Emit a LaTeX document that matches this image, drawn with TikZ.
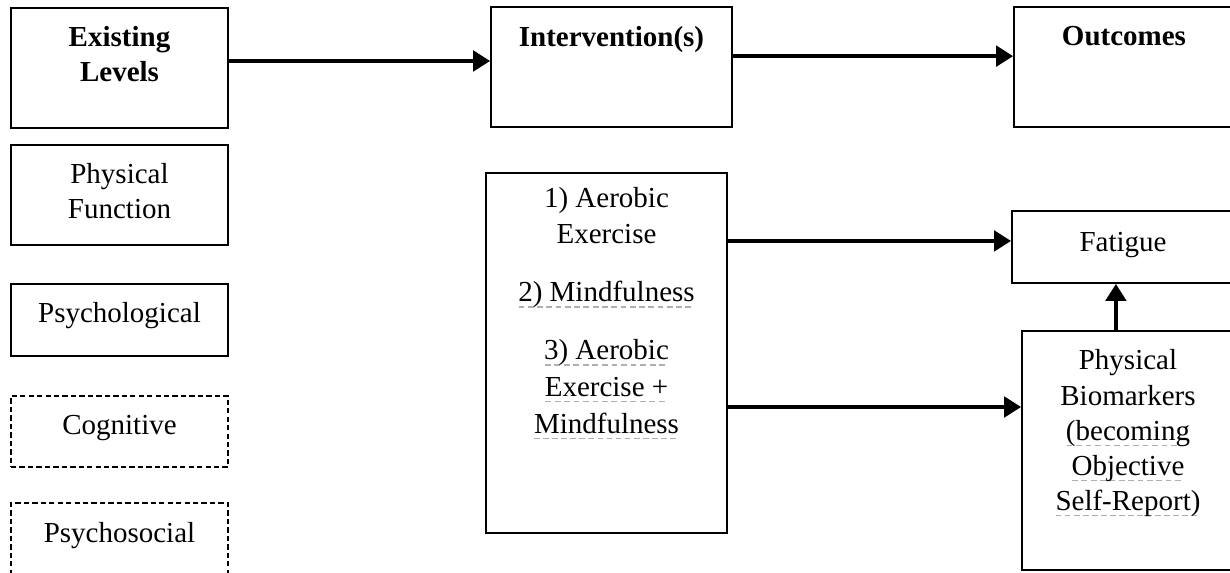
\documentclass[tikz,border=0pt]{standalone}
\usepackage{fontspec}
\setmainfont{Liberation Serif}
\usetikzlibrary{arrows.meta,positioning}

\definecolor{spellgray}{RGB}{175,175,175}
% grey dashed spell-check underline
\newsavebox{\spellbox}
\newcommand{\spell}[1]{\sbox{\spellbox}{#1}\leavevmode
  \rlap{\raisebox{-2.4pt}[0pt][0pt]{\hbox to\wd\spellbox{\color{spellgray}\xleaders\hbox{\rule{2.4pt}{0.5pt}\kern1.3pt}\hfill}}}\usebox{\spellbox}}

\begin{document}
\begin{tikzpicture}
    [x=0.4138pt,y=-0.4138pt,
    font=\fontsize{12}{14.5}\selectfont,
    levelbox/.style={draw,line width=0.8pt,minimum width=89.8pt},
    dashbox/.style={levelbox,dash pattern=on 2.2pt off 1.3pt},
    stagebox/.style={draw,line width=0.8pt},
    txt/.style={inner sep=0pt,align=center},
    arr/.style={-{Triangle[length=7pt,width=8.5pt]},line width=1.4pt}]

    \useasboundingbox (0,0) rectangle (1230,573);
    \clip (0,0) rectangle (1230,573);

    % existing levels
    \node[levelbox,minimum height=49.7pt] (existing) at (119.5,68) {};
    \node[levelbox,minimum height=41.4pt,below=6.2pt of existing] (physical) {};
    \node[levelbox,minimum height=29.8pt,below=15.3pt of physical] (psychological) {};
    \node[dashbox,minimum height=29.4pt,below=15.8pt of psychological] (cognitive) {};
    \node[dashbox,minimum height=41.4pt,below=14.1pt of cognitive] (psychosocial) {};

    \node[txt,below=8pt of existing.north] (existingtxt) {\textbf{Existing}\\\textbf{Levels}};
    \node[txt,below=8pt of physical.north] (physicaltxt) {Physical\\Function};
    \node[txt,below=7.8pt of psychological.north] (psychologicaltxt) {Psychological};
    \node[txt,below=8pt of cognitive.north] (cognitivetxt) {Cognitive};
    \node[txt,below=8pt of psychosocial.north] (psychosocialtxt) {Psychosocial};

    % interventions and outcomes
    \node[stagebox,minimum width=99.7pt,minimum height=49.7pt] (intervention) at (611.5,67) {};
    \node[stagebox,minimum width=91pt,minimum height=49.7pt] (outcomes) at (1124,67) {};
    \node[stagebox,minimum width=99.7pt,minimum height=149pt] (arms) at (606.5,353) {};
    \node[stagebox,minimum width=91.9pt,minimum height=29.8pt] (fatigue) at (1123,247) {};
    \node[stagebox,minimum width=87.7pt,minimum height=98.9pt] (biomarkers) at (1128,450.5) {};

    \node[txt,below=8.4pt of intervention.north] (interventiontxt) {\textbf{Intervention(s)}};
    \node[txt,below=8.4pt of outcomes.north] (outcomestxt) {\textbf{Outcomes}};
    \node[txt,font=\fontsize{12}{15.2}\selectfont,below=6pt of arms.north] (armstxt)
    {1) Aerobic\\Exercise\\[8.8pt]\spell{2) Mindfulness}\\[8.8pt]\spell{3) Aerobic}\\\spell{Exercise +}\\\spell{Mindfulness}};
    \node[txt,below=9pt of fatigue.north] (fatiguetxt) {Fatigue};
    \node[txt,below=8pt of biomarkers.north] (biomarkerstxt)
    {Physical\\Biomarkers\\\spell{(becoming}\\\spell{Objective}\\\spell{Self-Report)}};

    \draw[arr] ([yshift=2.9pt]existing.east) -- ([yshift=2.9pt]existing.east -| intervention.west);
    \draw[arr] ([yshift=4.5pt]intervention.east) -- ([yshift=4.5pt]outcomes.west);
    \draw[arr] ([yshift=2.5pt]fatigue.west -| arms.east) -- ([yshift=2.5pt]fatigue.west);
    \draw[arr] ([yshift=18pt]biomarkers.west -| arms.east) -- ([yshift=18pt]biomarkers.west);
    \draw[arr] ([xshift=-5pt]biomarkers.north) -- ([xshift=-5pt]biomarkers.north |- fatigue.south);
  \end{tikzpicture}
\end{document}
